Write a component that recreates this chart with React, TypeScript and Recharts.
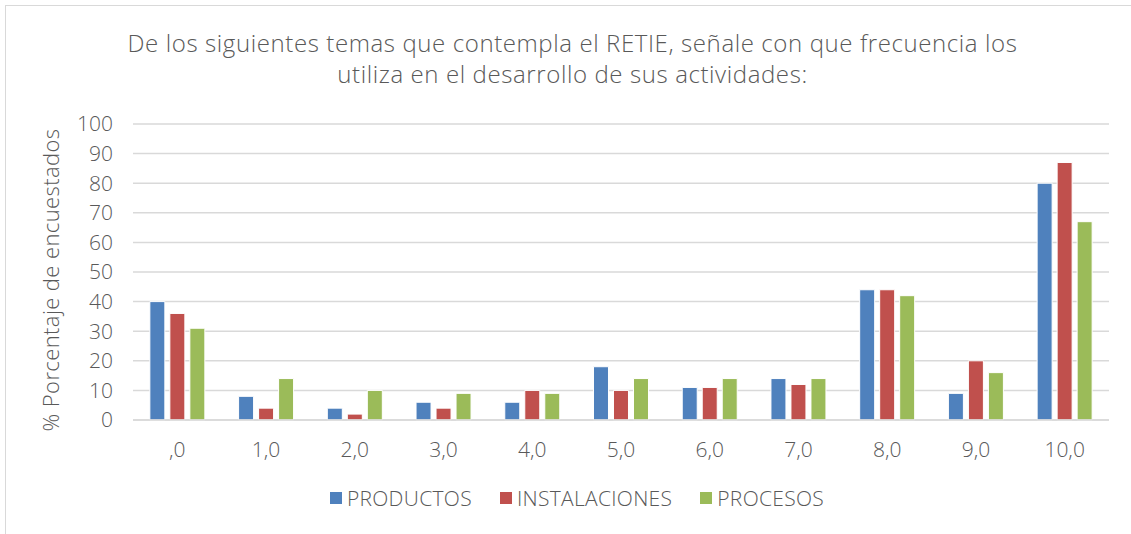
import React from "react"
import { BarChart, Bar, XAxis, YAxis, CartesianGrid } from "recharts"

const categories = [",0", "1,0", "2,0", "3,0", "4,0", "5,0", "6,0", "7,0", "8,0", "9,0", "10,0"]
const productos = [40, 8, 4, 6, 6, 18, 11, 14, 44, 9, 80]
const instalaciones = [36, 4, 2, 4, 10, 10, 11, 12, 44, 20, 87]
const procesos = [31, 14, 10, 9, 9, 14, 14, 14, 42, 16, 67]
const yTicks = [0, 10, 20, 30, 40, 50, 60, 70, 80, 90, 100]

const series = [
  { key: "PRODUCTOS", color: "#4F81BD", values: productos },
  { key: "INSTALACIONES", color: "#C0504D", values: instalaciones },
  { key: "PROCESOS", color: "#9BBB59", values: procesos },
]

const data = categories.map((c, i) => {
  const row: Record<string, string | number> = { cat: c }
  series.forEach((s) => (row[s.key] = s.values[i]))
  return row
})

const FONT = "'Open Sans', Lato, sans-serif"
const GRAY = "#595959"

function YLabel() {
  return (
    <text
      transform="translate(59,280) rotate(-90)"
      textAnchor="middle"
      fill={GRAY}
      fontSize={22}
      fontWeight={300}
      fontFamily={FONT}
      letterSpacing={0.4}
    >
      % Porcentaje de encuestados
    </text>
  )
}

export default function App() {
  return (
    <div style={{ position: "absolute", left: 0, top: 0, width: 1131, height: 534, background: "#fff", overflow: "hidden", fontFamily: FONT }}>
      <div style={{ position: "absolute", left: 5, top: 5, width: 1140, height: 540, borderLeft: "1px solid #d9d9d9", borderTop: "1px solid #d9d9d9" }} />
      <div
        style={{
          position: "absolute",
          left: 0,
          top: 27,
          width: 1145,
          textAlign: "center",
          color: GRAY,
          fontSize: 24,
          lineHeight: "31px",
          fontWeight: 300,
          letterSpacing: 0.6,
        }}
      >
        De los siguientes temas que contempla el RETIE, señale con que frecuencia los
        <br />
        utiliza en el desarrollo de sus actividades:
      </div>
      <div style={{ position: "absolute", left: 0, top: 0 }}>
        <BarChart
          width={1131}
          height={534}
          data={data}
          margin={{ top: 124, right: 22, bottom: 84, left: 73 }}
          barCategoryGap="19%"
          barGap={5}
        >
          <CartesianGrid vertical={false} stroke="#d9d9d9" strokeWidth={1.5} />
          <XAxis
            dataKey="cat"
            axisLine={{ stroke: "#d9d9d9", strokeWidth: 1.5 }}
            tickLine={false}
            tick={{ fontSize: 21, fill: GRAY, fontFamily: FONT, fontWeight: 300 }}
            tickMargin={16}
            height={30}
            interval={0}
          />
          <YAxis
            domain={[0, 100]}
            ticks={yTicks}
            interval={0}
            width={60}
            axisLine={false}
            tickLine={false}
            tick={{ fontSize: 21, fill: GRAY, fontFamily: FONT, fontWeight: 300 }}
            tickMargin={14}
            label={<YLabel />}
          />
          {series.map((s) => (
            <Bar key={s.key} dataKey={s.key} fill={s.color} stroke="#fff" strokeWidth={1} isAnimationActive={false} />
          ))}
        </BarChart>
      </div>
      <div
        style={{
          position: "absolute",
          left: 0,
          top: 484,
          width: 1154,
          display: "flex",
          justifyContent: "center",
          gap: 28,
          fontSize: 21,
          fontWeight: 300,
          color: GRAY,
          letterSpacing: 0.3,
        }}
      >
        {series.map((s) => (
          <div key={s.key} style={{ display: "flex", alignItems: "center" }}>
            <span style={{ display: "inline-block", width: 12, height: 12, background: s.color, marginRight: 5 }} />
            <span>{s.key}</span>
          </div>
        ))}
      </div>
    </div>
  )
}
